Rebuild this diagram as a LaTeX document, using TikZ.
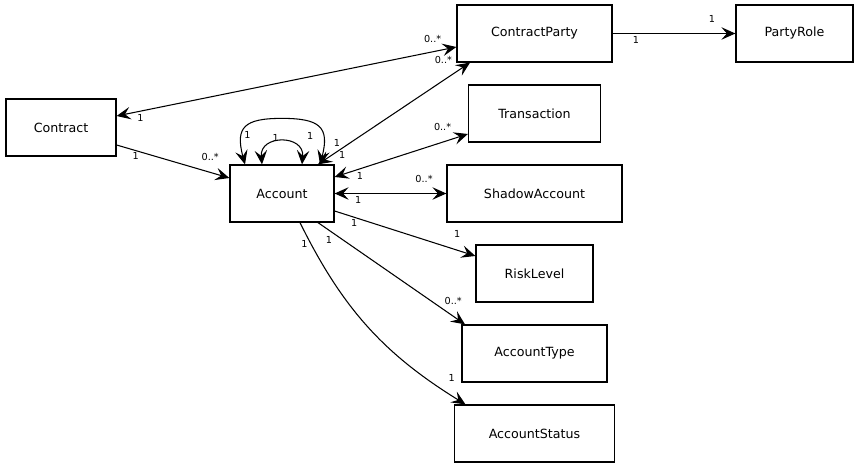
\documentclass[tikz,border=0pt]{standalone}
\usepackage{fontspec}
\setmainfont{DejaVu Sans}
\usetikzlibrary{arrows.meta,positioning}

\begin{document}
\begin{tikzpicture}[>={Stealth[length=2.8mm,width=2.5mm,inset=1.1mm]},
    node distance=1.6cm,on grid,line width=0.6pt,
    cls/.style={draw,line width=0.7pt,minimum height=1.14cm,font=\fontsize{7.2}{8}\selectfont},
    mult/.style={font=\fontsize{5.5}{6}\selectfont,inner sep=0pt}]
    \useasboundingbox (-5.64,3.87) rectangle (11.56,-5.49);

    \node[cls,minimum width=2.08cm] (account) {Account};
    \node[cls,minimum width=3.5cm] (shadow) [right=5.05cm of account] {ShadowAccount};
    \node[cls,minimum width=2.64cm] (transaction) [above=of shadow] {Transaction};
    \node[cls,minimum width=3.1cm] (party) [above=of transaction] {ContractParty};
    \node[cls,minimum width=2.34cm] (risk) [below=of shadow] {RiskLevel};
    \node[cls,minimum width=2.9cm] (type) [below=of risk] {AccountType};
    \node[cls,minimum width=3.2cm] (status) [below=of type] {AccountStatus};
    \node[cls,minimum width=2.34cm] (role) [right=5.2cm of party] {PartyRole};
    \node[cls,minimum width=2.2cm] (contract) [above left=1.32cm and 4.42cm of account] {Contract};

    \path[<->] ([yshift=0.23cm]contract.east) edge
        node[mult,pos=0.07,yshift=-0.14cm] {1}
        node[mult,pos=0.93,yshift=0.26cm] {0..*} ([yshift=-0.27cm]party.west);
    \path[->] ([yshift=-0.35cm]contract.east) edge
        node[mult,pos=0.17,yshift=-0.11cm] {1}
        node[mult,pos=0.83,yshift=0.31cm] {0..*} ([yshift=0.31cm]account.west);
    \path[<->] ([xshift=0.72cm]account.north) edge
        node[mult,pos=0.125,yshift=0.18cm] {1}
        node[mult,pos=0.16,yshift=-0.13cm] {1}
        node[mult,pos=0.95,xshift=-0.38cm,yshift=0.16cm] {0..*} ([xshift=-1.29cm]party.south);
    \path[<->] ([yshift=0.33cm]account.east) edge
        node[mult,pos=0.19,yshift=-0.15cm] {1}
        node[mult,pos=0.81,yshift=0.3cm] {0..*} ([yshift=-0.41cm]transaction.west);
    \path[<->] (account) edge
        node[mult,pos=0.21,yshift=-0.13cm] {1}
        node[mult,pos=0.8,yshift=0.29cm] {0..*} (shadow);
    \path[->] ([yshift=-0.35cm]account.east) edge
        node[mult,pos=0.14,yshift=-0.11cm] {1}
        node[mult,pos=0.87,yshift=0.33cm] {1} ([yshift=0.35cm]risk.west);
    \path[->] ([xshift=0.72cm]account.south) edge
        node[mult,pos=0.075,yshift=-0.2cm] {1}
        node[mult,pos=0.92,yshift=0.31cm] {0..*} ([xshift=-1.39cm]type.north);
    \path[->] ([xshift=0.36cm]account.south) edge[bend right=16]
        node[mult,pos=0.07,xshift=-0.09cm,yshift=-0.07cm] {1}
        node[mult,pos=0.9,xshift=0.19cm,yshift=0.22cm] {1} ([xshift=-1.38cm]status.north);
    \path[->] (party) edge
        node[mult,pos=0.19,yshift=-0.13cm] {1}
        node[mult,pos=0.81,yshift=0.29cm] {1} (role);

    % self associations
    \draw[<->] ([xshift=-0.74cm]account.north)
        .. controls +(-0.2,0.75) and +(-0.75,0) ..
        node[mult,pos=0.4,xshift=0.09cm,yshift=-0.05cm] {1} ([yshift=0.92cm]account.north)
        .. controls +(0.75,0) and +(0.2,0.75) ..
        node[mult,pos=0.6,xshift=-0.23cm,yshift=-0.07cm] {1} ([xshift=0.76cm]account.north);
    \draw[<->] ([xshift=-0.4cm]account.north)
        .. controls +(-0.05,0.6) and +(0.05,0.6) ..
        node[mult,pos=0.4,yshift=0.09cm] {1} ([xshift=0.4cm]account.north);
\end{tikzpicture}
\end{document}
